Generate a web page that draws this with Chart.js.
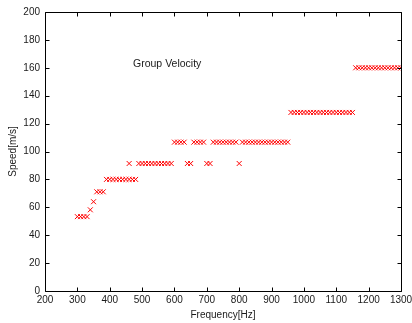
<!DOCTYPE html>
<html>
<head>
<meta charset="utf-8">
<script src="https://cdn.jsdelivr.net/npm/chart.js@4/dist/chart.umd.min.js"></script>
<style>
  html, body { margin: 0; padding: 0; background: #fff; }
  #wrap { width: 412px; height: 323px; }
</style>
</head>
<body>
<div id="wrap"><canvas id="c" width="412" height="323"></canvas></div>
<script>
// Frequencies [Hz] and group speeds [m/s]
const freqs = [
  300, 310, 320, 330,
  340,
  350,
  360, 370, 380,
  390, 400, 410, 420, 430, 440, 450, 460, 470, 480,
  460,
  490, 500, 510, 520, 530, 540, 550, 560, 570, 580, 590,
  600, 610, 620, 630,
  640, 650,
  660, 670, 680, 690,
  700, 710,
  720, 730, 740, 750, 760, 770, 780, 790,
  800,
  810, 820, 830, 840, 850, 860, 870, 880, 890, 900, 910, 920, 930, 940, 950,
  960, 970, 980, 990, 1000, 1010, 1020, 1030, 1040, 1050, 1060, 1070, 1080, 1090, 1100, 1110, 1120, 1130, 1140, 1150,
  1160, 1170, 1180, 1190, 1200, 1210, 1220, 1230, 1240, 1250, 1260, 1270, 1280, 1290, 1300
];
const speeds = [
  53.3, 53.3, 53.3, 53.3,
  58.2,
  64.0,
  71.1, 71.1, 71.1,
  80, 80, 80, 80, 80, 80, 80, 80, 80, 80,
  91.4,
  91.4, 91.4, 91.4, 91.4, 91.4, 91.4, 91.4, 91.4, 91.4, 91.4, 91.4,
  106.7, 106.7, 106.7, 106.7,
  91.4, 91.4,
  106.7, 106.7, 106.7, 106.7,
  91.4, 91.4,
  106.7, 106.7, 106.7, 106.7, 106.7, 106.7, 106.7, 106.7,
  91.4,
  106.7, 106.7, 106.7, 106.7, 106.7, 106.7, 106.7, 106.7, 106.7, 106.7, 106.7, 106.7, 106.7, 106.7, 106.7,
  128, 128, 128, 128, 128, 128, 128, 128, 128, 128, 128, 128, 128, 128, 128, 128, 128, 128, 128, 128,
  160, 160, 160, 160, 160, 160, 160, 160, 160, 160, 160, 160, 160, 160, 160
];
const xTickValues = [200, 300, 400, 500, 600, 700, 800, 900, 1000, 1100, 1200, 1300];
const yTickValues = [0, 20, 40, 60, 80, 100, 120, 140, 160, 180, 200];
const annotationText = 'Group Velocity';
const annotationAt = { x: 472, y: 163 };

const FONT = 'Liberation Sans, Arial, sans-serif';
const TEXT = '#1a1a1a';

const boxPlugin = {
  id: 'box',
  afterDraw(chart) {
    const { ctx, chartArea: a, scales: { x, y } } = chart;
    ctx.save();
    ctx.strokeStyle = '#000';
    ctx.lineWidth = 1;
    const L = Math.round(a.left) + 0.5, R = Math.round(a.right) + 0.5;
    const T = Math.round(a.top) + 0.5, B = Math.round(a.bottom) + 0.5;
    ctx.beginPath();
    ctx.rect(L, T, R - L, B - T);
    const tl = 4;
    xTickValues.forEach(v => {
      const px = Math.round(x.getPixelForValue(v)) + 0.5;
      ctx.moveTo(px, B); ctx.lineTo(px, B - tl);
      ctx.moveTo(px, T); ctx.lineTo(px, T + tl);
    });
    yTickValues.forEach(v => {
      const py = Math.round(y.getPixelForValue(v)) + 0.5;
      ctx.moveTo(L, py); ctx.lineTo(L + tl, py);
      ctx.moveTo(R, py); ctx.lineTo(R - tl, py);
    });
    ctx.stroke();
    ctx.fillStyle = TEXT;
    ctx.font = '10.5px ' + FONT;
    ctx.textAlign = 'left';
    ctx.textBaseline = 'middle';
    ctx.fillText(annotationText, x.getPixelForValue(annotationAt.x), y.getPixelForValue(annotationAt.y));
    ctx.restore();
  }
};

new Chart(document.getElementById('c'), {
  type: 'scatter',
  data: {
    datasets: [{
      data: freqs.map((f, i) => ({ x: f, y: speeds[i] })),
      pointStyle: 'crossRot',
      pointRadius: 3.5,
      pointBorderWidth: 1,
      borderColor: '#ff0000',
      backgroundColor: '#ff0000'
    }]
  },
  options: {
    responsive: false,
    animation: false,
    devicePixelRatio: 1,
    layout: { padding: { top: 12, right: 11, left: 0, bottom: 0 } },
    plugins: { legend: { display: false }, tooltip: { enabled: false } },
    scales: {
      x: {
        type: 'linear', min: 200, max: 1300,
        afterBuildTicks: s => { s.ticks = xTickValues.map(v => ({ value: v })); },
        afterFit: s => { s.height = 32; s.paddingRight = 0; s.paddingLeft = 0; },
        grid: { display: false, drawTicks: false },
        border: { display: false },
        ticks: { color: TEXT, font: { family: FONT, size: 10 }, padding: 3, maxRotation: 0, autoSkip: false, callback: v => String(v) },
        title: { display: true, text: 'Frequency[Hz]', color: TEXT, font: { family: FONT, size: 10 }, padding: { top: 0, bottom: 2 } }
      },
      y: {
        type: 'linear', min: 0, max: 200,
        afterBuildTicks: s => { s.ticks = yTickValues.map(v => ({ value: v })); },
        afterFit: s => { s.width = 45; s.paddingTop = 0; s.paddingBottom = 0; },
        grid: { display: false, drawTicks: false },
        border: { display: false },
        ticks: { color: TEXT, font: { family: FONT, size: 10 }, padding: 5, autoSkip: false, callback: v => String(v) },
        title: { display: true, text: 'Speed[m/s]', color: TEXT, font: { family: FONT, size: 10 }, padding: { top: 7, bottom: 0 } }
      }
    }
  },
  plugins: [boxPlugin]
});
</script>
</body>
</html>
